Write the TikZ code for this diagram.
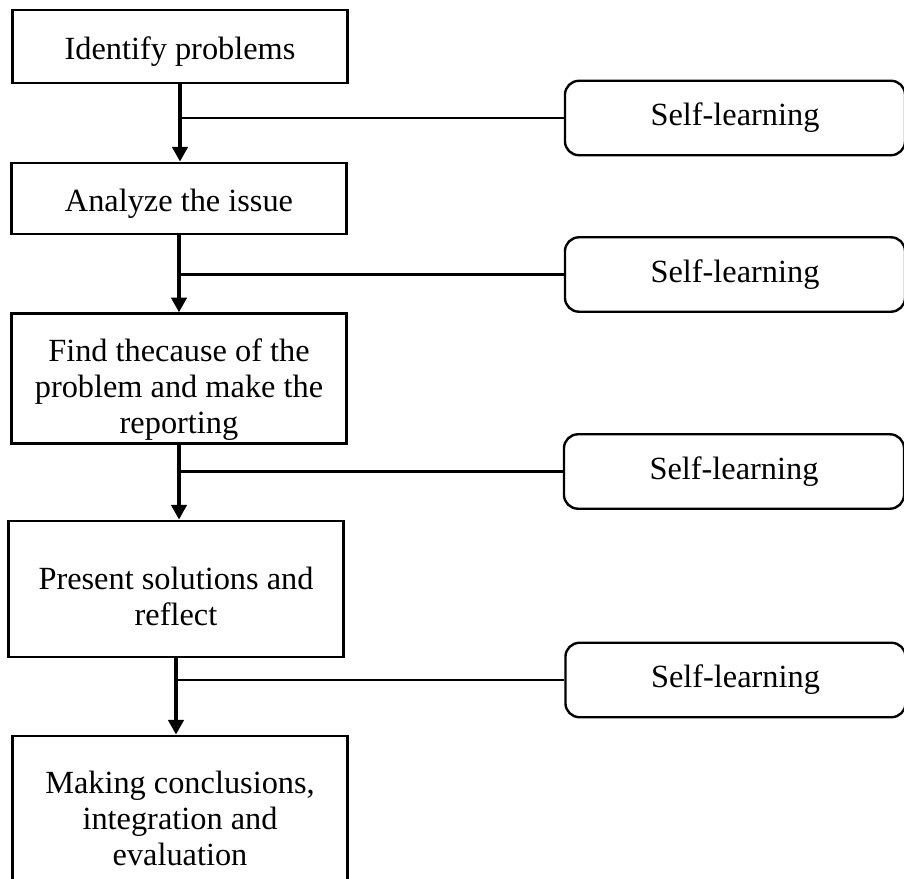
\documentclass[tikz,border=0pt]{standalone}
\usepackage{fontspec}
\setmainfont{Liberation Serif}
\usetikzlibrary{arrows.meta,shapes}
\tikzstyle{block}=[draw,line width=1.9pt,rectangle,minimum width=8.375cm,align=center,inner sep=2pt,font=\fontsize{23}{25.6}\selectfont]
\tikzstyle{selfbox}=[draw,line width=1.7pt,rounded corners=0.35cm,minimum width=8.5cm,minimum height=1.86cm,font=\fontsize{23}{25.6}\selectfont]
\tikzstyle{arrow} = [draw,line width=2.6pt,-{Triangle[length=0.37cm,width=0.38cm]}]
\tikzstyle{branch} = [draw,line width=1.8pt,-]
% a strut that pushes the text of a box a little down
\newcommand{\dropby}[1]{\rule{0pt}{#1}}

\begin{document}
\begin{tikzpicture}[x=0.025cm,y=-0.025cm]
    \useasboundingbox (0,0) rectangle (904,879);
    % First we draw the steps
    \node[block,minimum height=1.825cm] (B1) at (180,46.5) {\dropby{23pt}Identify problems};
    \node[block,minimum height=1.775cm] (B2) at (179,198.5) {\dropby{23pt}Analyze the issue};
    \node[block,minimum height=3.225cm] (B3) at (179,378.5) {\dropby{32pt}Find thecause of the\\problem and make the\\reporting};
    \node[block,minimum height=3.4cm] (B4) at (176,589) {\dropby{27pt}Present solutions and\\reflect};
    \node[block,minimum height=4cm] (B5) at (180,816) {\dropby{19pt}Making conclusions,\\integration and\\evaluation};

    % Then the self-learning boxes
    \foreach \pos/\name in {{(735,118)/S1}, {(735,274.5)/S2}, {(734,471.5)/S3}, {(735.5,680)/S4}}
        \node[selfbox] (\name) at \pos {Self-learning};

    % Connect steps with arrows and branches
    \foreach \source/\dest/\side in {B1/B2/S1, B2/B3/S2, B3/B4/S3, B4/B5/S4}{
        \path[arrow] (\source.south) -- (\source.south |- \dest.north);
        \path[branch] (\source.south |- \side.west) -- (\side.west);
    }
\end{tikzpicture}
\end{document}
